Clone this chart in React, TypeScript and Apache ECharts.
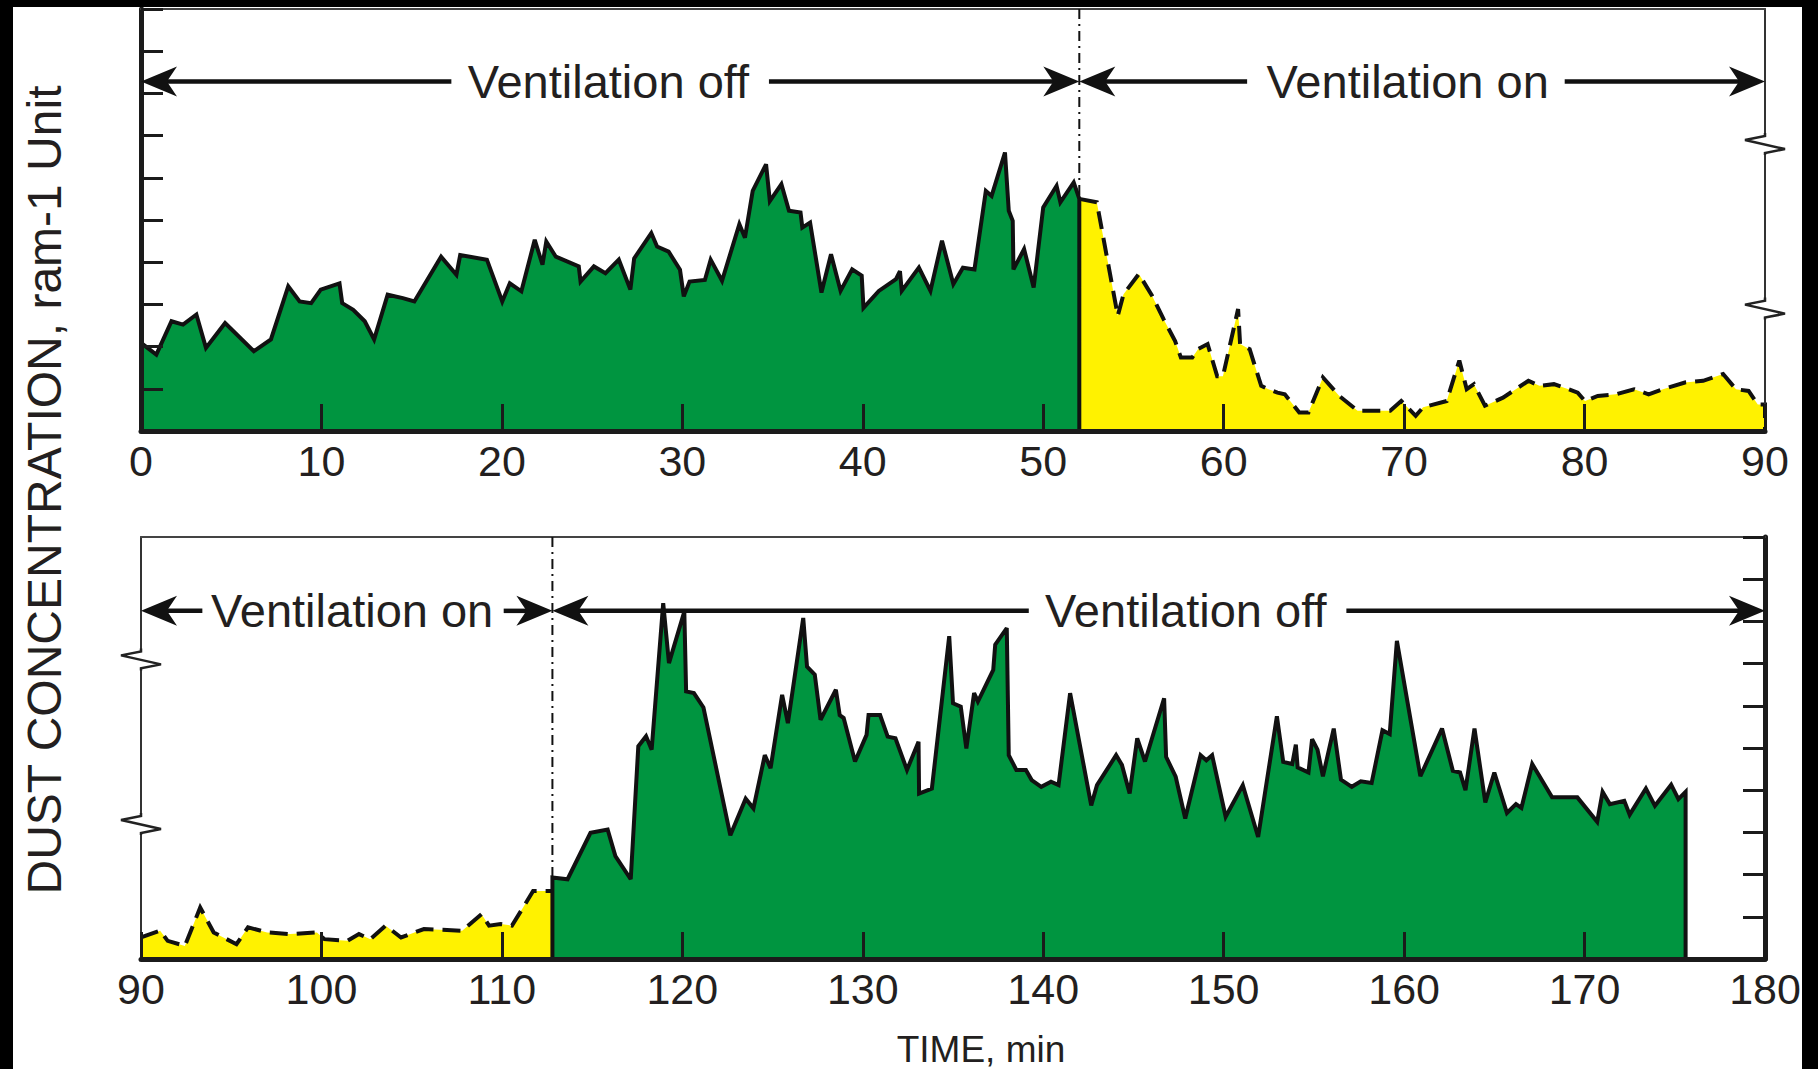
import React, { useEffect, useRef } from "react";
import * as echarts from "echarts";

const W = 1818;
const H = 1069;

// ---- data: [time (min), dust concentration (relative units)] ----
const topVentOff: [number, number][] = [
  [0, 2.09], [0.85, 1.81], [1.69, 2.6], [2.33, 2.52], [3.07, 2.76], [3.6, 1.97], [4.66, 2.56],
  [6.25, 1.89], [7.2, 2.17], [8.16, 3.43], [8.79, 3.07], [9.43, 3.03], [9.96, 3.35], [11.0, 3.5],
  [11.15, 3.03], [11.76, 2.87], [12.4, 2.6], [12.92, 2.17], [13.67, 3.23], [14.51, 3.15],
  [15.15, 3.07], [16.63, 4.13], [17.48, 3.7], [17.69, 4.17], [19.17, 4.06], [20.02, 3.07],
  [20.44, 3.5], [21.08, 3.31], [21.82, 4.53], [22.25, 3.94], [22.46, 4.49], [22.99, 4.13],
  [24.26, 3.9], [24.36, 3.54], [25.1, 3.9], [25.74, 3.74], [26.48, 4.06], [27.12, 3.35],
  [27.33, 4.09], [28.28, 4.69], [28.6, 4.37], [29.24, 4.25], [29.87, 3.82], [30.08, 3.19],
  [30.4, 3.54], [31.25, 3.58], [31.57, 4.06], [32.2, 3.56], [33.16, 4.9], [33.47, 4.58],
  [33.9, 5.69], [34.64, 6.32], [34.85, 5.45], [35.49, 5.85], [35.91, 5.22], [36.55, 5.18],
  [36.65, 4.82], [37.08, 4.94], [37.71, 3.28], [38.24, 4.19], [38.77, 3.32], [39.41, 3.83],
  [39.94, 3.68], [40.04, 2.92], [40.89, 3.32], [41.84, 3.6], [42.06, 3.79], [42.16, 3.32],
  [43.11, 3.87], [43.75, 3.32], [44.39, 4.51], [45.02, 3.48], [45.55, 3.87], [46.19, 3.83],
  [46.82, 5.69], [47.14, 5.57], [47.88, 6.6], [48.09, 5.22], [48.31, 4.98], [48.35, 3.83],
  [48.94, 4.31], [49.47, 3.4], [50.0, 5.3], [50.74, 5.81], [50.95, 5.42], [51.69, 5.89],
  [52.0, 5.5], [52.0, 0],
];

const topVentOn: [number, number][] = [
  [52.0, 5.5], [52.97, 5.42], [54.13, 2.73], [54.45, 3.24], [55.3, 3.72], [56.04, 3.2],
  [56.67, 2.65], [57.31, 2.13], [57.63, 1.74], [58.26, 1.74], [58.58, 1.94], [59.11, 2.06],
  [59.64, 1.3], [59.96, 1.3], [60.8, 2.89], [60.91, 2.06], [61.44, 1.94], [62.08, 1.07],
  [62.48, 0.99], [62.98, 0.91], [63.39, 0.87], [64.19, 0.44], [64.7, 0.44], [65.5, 1.27],
  [66.41, 0.83], [67.42, 0.48], [68.22, 0.48], [69.23, 0.48], [69.84, 0.71], [70.64, 0.36],
  [71.05, 0.56], [72.36, 0.71], [73.06, 1.67], [73.47, 0.99], [73.87, 1.11], [74.48, 0.6],
  [75.48, 0.79], [76.89, 1.19], [77.5, 1.07], [78.3, 1.11], [79.11, 0.99], [79.62, 0.91],
  [80.02, 0.71], [80.73, 0.83], [81.73, 0.87], [82.74, 0.99], [83.55, 0.87], [84.35, 0.99],
  [85.56, 1.15], [86.57, 1.19], [87.68, 1.35], [88.39, 0.99], [89.09, 0.95], [89.6, 0.63],
  [90.0, 0.63], [90.0, 0],
];

const bottomVentOn: [number, number][] = [
  [90, 0.51], [91.06, 0.67], [91.48, 0.43], [92.43, 0.31], [93.28, 1.22], [94.03, 0.63],
  [95.29, 0.35], [95.93, 0.75], [96.99, 0.63], [98.26, 0.59], [99.75, 0.63], [100.17, 0.47],
  [101.44, 0.43], [102.08, 0.59], [102.71, 0.47], [103.56, 0.79], [104.41, 0.51], [105.68, 0.71],
  [107.8, 0.67], [108.87, 1.06], [109.29, 0.79], [109.93, 0.83], [110.56, 0.79], [111.73, 1.61],
  [112.8, 1.61],
];

const bottomVentOff: [number, number][] = [
  [112.8, 0], [112.8, 1.93], [113.64, 1.89], [114.91, 2.99], [115.86, 3.07], [116.29, 2.44],
  [117.14, 1.89], [117.56, 5.04], [117.99, 5.28], [118.3, 4.96], [118.94, 8.43], [119.26, 7.01],
  [120.11, 8.23], [120.21, 6.34], [120.64, 6.3], [121.17, 5.96], [122.66, 2.93], [123.51, 3.8],
  [123.94, 3.57], [124.57, 4.83], [124.89, 4.52], [125.53, 6.26], [125.85, 5.59], [126.7, 8.08],
  [126.91, 6.93], [127.34, 6.74], [127.66, 5.67], [128.51, 6.38], [128.72, 5.78], [128.94, 5.71],
  [129.57, 4.68], [130.21, 5.31], [130.32, 5.78], [130.96, 5.78], [131.38, 5.27], [131.81, 5.23],
  [132.45, 4.48], [133.09, 5.15], [133.12, 3.92], [133.83, 4.04], [134.79, 7.65], [135.0, 6.06],
  [135.43, 5.98], [135.74, 4.99], [136.17, 6.3], [136.38, 6.1], [137.23, 6.85], [137.34, 7.45],
  [137.98, 7.84], [138.09, 4.83], [138.51, 4.48], [139.04, 4.48], [139.36, 4.24], [139.89, 4.08],
  [140.43, 4.2], [140.85, 4.12], [141.49, 6.3], [142.66, 3.64], [142.98, 4.12], [144.04, 4.83],
  [144.36, 4.6], [144.79, 3.92], [145.21, 5.23], [145.64, 4.68], [146.7, 6.18], [146.81, 4.79],
  [147.34, 4.32], [147.87, 3.33], [148.72, 4.83], [149.04, 4.71], [149.36, 4.83], [150.11, 3.37],
  [151.06, 4.12], [151.91, 2.89], [152.95, 5.75], [153.3, 4.67], [153.8, 4.62], [154.0, 5.08],
  [154.1, 4.54], [154.7, 4.42], [154.9, 5.21], [155.2, 4.96], [155.5, 4.33], [156.1, 5.46],
  [156.5, 4.25], [157.1, 4.08], [157.6, 4.21], [158.2, 4.17], [158.8, 5.42], [159.2, 5.33],
  [159.6, 7.54], [160.9, 4.33], [162.1, 5.46], [162.7, 4.46], [163.1, 4.42], [163.4, 4.0],
  [163.9, 5.46], [164.5, 3.71], [165.0, 4.42], [165.7, 3.46], [166.2, 3.67], [166.5, 3.58],
  [167.1, 4.62], [168.2, 3.83], [169.6, 3.83], [170.7, 3.25], [171.0, 3.96], [171.4, 3.67],
  [172.2, 3.75], [172.5, 3.42], [173.4, 4.04], [173.9, 3.63], [174.8, 4.13], [175.2, 3.79],
  [175.6, 3.96], [175.6, 0],
];

// axis ranges / ticks
const topXRange = [0, 90];
const bottomXRange = [90, 180];
const xTickStep = 10;
const yRange = [0, 10];

// annotations (arrows with labels), in data units
const topNotes = [
  { text: "Ventilation off", from: 0, to: 52, textFrom: 17.2, textTo: 34.8, center: 25.9 },
  { text: "Ventilation on", from: 52, to: 90, textFrom: 61.3, textTo: 78.9, center: 70.2 },
];
const topNoteLevel = 8.28;
const bottomNotes = [
  { text: "Ventilation on", from: 90, to: 112.8, textFrom: 93.4, textTo: 110.1, center: 101.7 },
  { text: "Ventilation off", from: 112.8, to: 180, textFrom: 139.2, textTo: 156.8, center: 147.9 },
];
const bottomNoteLevel = 8.25;
const topSwitch = { t: 52, v: 5.5 };
const bottomSwitch = { t: 112.8, v: 1.93 };
const topBreaks = [6.8, 2.9];
const bottomBreaks = [7.1, 3.2];

const GREEN = "#009540";
const YELLOW = "#FFF200";
const INK = "#1b1b1b";
const TEXT = "#231f20";
const FONT = "'Liberation Sans', Arial, Helvetica, sans-serif";

function xAxisMain(grid: number, range: number[]) {
  return {
    type: "value",
    gridIndex: grid,
    min: range[0],
    max: range[1],
    interval: xTickStep,
    position: "bottom",
    z: 10,
    axisLine: { show: true, onZero: false, lineStyle: { color: INK, width: 5 } },
    axisTick: { show: true, inside: true, length: 27, lineStyle: { color: INK, width: 3 } },
    axisLabel: {
      show: true,
      color: TEXT,
      fontSize: 43,
      fontFamily: FONT,
      margin: 8,
      showMinLabel: true,
      showMaxLabel: true,
      formatter: (v: number) => String(v),
    },
    splitLine: { show: false },
  };
}
function xAxisTop(grid: number, range: number[]) {
  return {
    type: "value",
    gridIndex: grid,
    min: range[0],
    max: range[1],
    position: "top",
    z: 10,
    axisLine: { show: true, onZero: false, lineStyle: { color: "#444", width: 2 } },
    axisTick: { show: false },
    axisLabel: { show: false },
    splitLine: { show: false },
  };
}
function yAxisTicked(grid: number, pos: string) {
  return {
    type: "value",
    gridIndex: grid,
    min: yRange[0],
    max: yRange[1],
    interval: 1,
    position: pos,
    z: 10,
    axisLine: { show: true, onZero: false, lineStyle: { color: INK, width: 5 } },
    axisTick: { show: true, inside: true, length: 22, lineStyle: { color: INK, width: 3 } },
    axisLabel: { show: false },
    splitLine: { show: false },
  };
}
function yAxisPlain(grid: number, pos: string) {
  return {
    type: "value",
    gridIndex: grid,
    min: yRange[0],
    max: yRange[1],
    position: pos,
    z: 10,
    axisLine: { show: true, onZero: false, lineStyle: { color: "#333", width: 2 } },
    axisTick: { show: false },
    axisLabel: { show: false },
    splitLine: { show: false },
  };
}

function areaSeries(data: [number, number][], xi: number, yi: number, fill: string, dashed: boolean) {
  return {
    type: "line",
    xAxisIndex: xi,
    yAxisIndex: yi,
    data,
    symbol: "none",
    showSymbol: false,
    silent: true,
    z: 3,
    lineStyle: {
      color: "#111",
      width: 4,
      type: dashed ? [18, 9] : "solid",
      join: "miter",
      miterLimit: 3,
      cap: "butt",
    },
    areaStyle: { color: fill, opacity: 1 },
  };
}

function buildOption() {
  return {
    animation: false,
    backgroundColor: "#ffffff",
    grid: [
      { left: 141, right: 53, top: 9, height: 422 },
      { left: 141, right: 53, top: 537, height: 422 },
    ],
    xAxis: [
      xAxisMain(0, topXRange),
      xAxisTop(0, topXRange),
      xAxisMain(1, bottomXRange),
      xAxisTop(1, bottomXRange),
    ],
    yAxis: [
      yAxisTicked(0, "left"),
      yAxisPlain(0, "right"),
      yAxisPlain(1, "left"),
      yAxisTicked(1, "right"),
    ],
    series: [
      areaSeries(topVentOff, 0, 0, GREEN, false),
      areaSeries(topVentOn, 0, 0, YELLOW, true),
      areaSeries(bottomVentOn, 2, 2, YELLOW, true),
      areaSeries(bottomVentOff, 2, 2, GREEN, false),
    ],
  };
}

function buildGraphics(chart: any) {
  const px = (grid: number, x: number, y: number): number[] =>
    chart.convertToPixel({ xAxisIndex: grid * 2, yAxisIndex: grid * 2 }, [x, y]) as number[];
  const els: any[] = [];
  const L = 36;
  const AW = 30;

  const arrowHead = (x: number, y: number, dir: number) => ({
    type: "polygon",
    z: 100,
    silent: true,
    shape: {
      points: [
        [x, y],
        [x - dir * L, y - AW / 2],
        [x - dir * L * 0.72, y],
        [x - dir * L, y + AW / 2],
      ],
    },
    style: { fill: "#111" },
  });
  const seg = (x1: number, y1: number, x2: number, y2: number, w: number, dash?: number[]) => ({
    type: "line",
    z: 100,
    silent: true,
    shape: { x1, y1, x2, y2 },
    style: { stroke: "#111", lineWidth: w, lineDash: dash, lineCap: "butt" },
  });

  const drawNotes = (grid: number, notes: any[], level: number) => {
    notes.forEach((n) => {
      const a = px(grid, n.from, level);
      const b = px(grid, n.to, level);
      const tf = px(grid, n.textFrom, level);
      const tt = px(grid, n.textTo, level);
      const c = px(grid, n.center, level);
      els.push(seg(a[0] + L * 0.6, a[1], tf[0], tf[1], 4.5));
      els.push(seg(tt[0], tt[1], b[0] - L * 0.6, b[1], 4.5));
      els.push(arrowHead(a[0], a[1], -1));
      els.push(arrowHead(b[0], b[1], 1));
      els.push({
        type: "text",
        z: 100,
        silent: true,
        x: c[0],
        y: c[1],
        style: {
          text: n.text,
          fontSize: 47,
          fontFamily: FONT,
          fill: TEXT,
          align: "center",
          verticalAlign: "middle",
        },
      });
    });
  };
  drawNotes(0, topNotes, topNoteLevel);
  drawNotes(1, bottomNotes, bottomNoteLevel);

  // dash-dot switch lines
  const s1 = px(0, topSwitch.t, yRange[1]);
  const s2 = px(0, topSwitch.t, topSwitch.v);
  els.push(seg(s1[0], s1[1], s2[0], s2[1], 2, [10, 5, 2, 5]));
  const b1 = px(1, bottomSwitch.t, yRange[1]);
  const b2 = px(1, bottomSwitch.t, bottomSwitch.v);
  els.push(seg(b1[0], b1[1], b2[0], b2[1], 2, [10, 5, 2, 5]));

  // axis breaks (zigzags)
  const zig = (x: number, y: number) => {
    els.push({
      type: "rect",
      z: 101,
      silent: true,
      shape: { x: x - 3, y: y - 10, width: 6, height: 20 },
      style: { fill: "#ffffff" },
    });
    els.push({
      type: "polyline",
      z: 102,
      silent: true,
      shape: {
        points: [
          [x, y - 11],
          [x, y - 8],
          [x - 20, y - 4],
          [x + 20, y + 5],
          [x, y + 9],
          [x, y + 11],
        ],
      },
      style: { stroke: "#222", lineWidth: 2.5, fill: null },
    });
  };
  topBreaks.forEach((v) => {
    const p = px(0, topXRange[1], v);
    zig(p[0], p[1]);
  });
  bottomBreaks.forEach((v) => {
    const p = px(1, bottomXRange[0], v);
    zig(p[0], p[1]);
  });

  // axis titles
  els.push({
    type: "text",
    z: 100,
    silent: true,
    x: 44,
    y: 490,
    rotation: Math.PI / 2,
    style: {
      text: "DUST CONCENTRATION, ram-1 Unit",
      fontSize: 48,
      fontFamily: FONT,
      fill: TEXT,
      align: "center",
      verticalAlign: "middle",
    },
  });
  els.push({
    type: "text",
    z: 100,
    silent: true,
    x: 981,
    y: 1049,
    style: {
      text: "TIME, min",
      fontSize: 37,
      fontFamily: FONT,
      fill: TEXT,
      align: "center",
      verticalAlign: "middle",
    },
  });

  // black frame strips of the original picture
  els.push({ type: "rect", z: 120, silent: true, shape: { x: 0, y: 0, width: W, height: 7 }, style: { fill: "#000" } });
  els.push({ type: "rect", z: 120, silent: true, shape: { x: 0, y: 0, width: 13, height: H }, style: { fill: "#000" } });
  els.push({ type: "rect", z: 120, silent: true, shape: { x: 1802, y: 0, width: 16, height: H }, style: { fill: "#000" } });
  return els;
}

export default function App() {
  const ref = useRef<HTMLDivElement>(null);
  useEffect(() => {
    if (!ref.current) return;
    const chart = echarts.init(ref.current, null, { renderer: "svg", width: W, height: H });
    chart.setOption(buildOption() as any);
    chart.setOption({ graphic: buildGraphics(chart) } as any);
    return () => {
      chart.dispose();
    };
  }, []);
  return <div ref={ref} style={{ position: "fixed", left: 0, top: 0, width: W, height: H }} />;
}
